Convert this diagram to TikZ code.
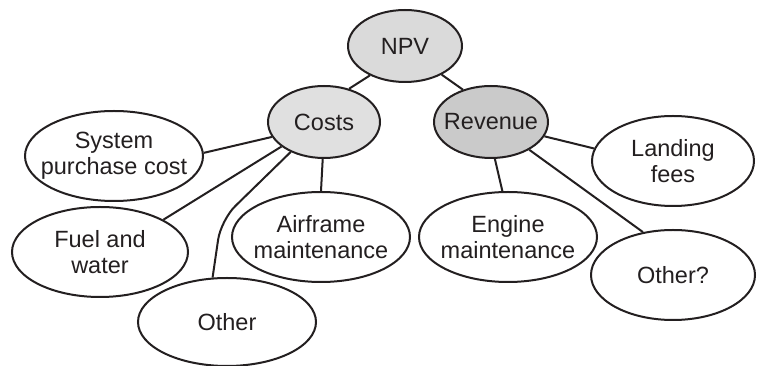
\documentclass[tikz,border=0pt]{standalone}
\usepackage{fontspec}
\setmainfont{Liberation Sans}
\usetikzlibrary{shapes.geometric}

\definecolor{inkgray}{HTML}{231F20}
\definecolor{npvfill}{HTML}{DADADA}
\definecolor{costfill}{HTML}{E0E0E0}
\definecolor{revfill}{HTML}{CACACA}

\tikzset{
  bubble/.style={ellipse,draw=inkgray,line width=2pt,inner xsep=-20pt,inner ysep=0pt,
    align=center,text=inkgray,font=\fontsize{23.5}{26}\selectfont},
  topnode/.style={bubble,minimum width=114pt,minimum height=72pt},
  leaf/.style={bubble,fill=white,minimum width=178pt,minimum height=90pt},
  link/.style={draw=inkgray,line width=2pt}
}

\begin{document}
\begin{tikzpicture}[x=1pt,y=1pt]
  \useasboundingbox (0,0) rectangle (758,366);
  % top level
  \node[topnode,fill=npvfill] (npv) at (405,320){NPV};
  \node[topnode,fill=costfill,minimum width=112pt] (costs) at (324,244){Costs};
  \node[topnode,fill=revfill] (rev) at (491,244){Revenue};
  % cost items
  \node[leaf] (sys) at (114,210){System\\purchase cost};
  \node[leaf,minimum width=176pt] (fuel) at (100,114){Fuel and\\water};
  \node[leaf,minimum height=88pt] (other) at (227,44){Other};
  \node[leaf] (air) at (321,129){Airframe\\maintenance};
  % revenue items
  \node[leaf] (eng) at (508,129){Engine\\maintenance};
  \node[leaf,minimum width=162pt] (land) at (673,205){Landing\\fees};
  \node[leaf,minimum width=164pt] (oth2) at (673,91){Other?};
  % links
  \draw[link] (npv.220)--(costs.53);
  \draw[link] (npv.322)--(rev.131);
  \draw[link] (costs.196)--(sys.2);
  \draw[link] (costs.210)--(fuel.27);
  \coordinate (bend) at (221,146);
  \draw[link,rounded corners=20pt] (costs.222)--(bend)--(other.108);
  \draw[link] (costs.268)--(air.north);
  \draw[link] (rev.-84)--(eng.97);
  \draw[link] (rev.-15)--(land.171);
  \draw[link] (rev.-36)--(oth2.125);
\end{tikzpicture}
\end{document}
